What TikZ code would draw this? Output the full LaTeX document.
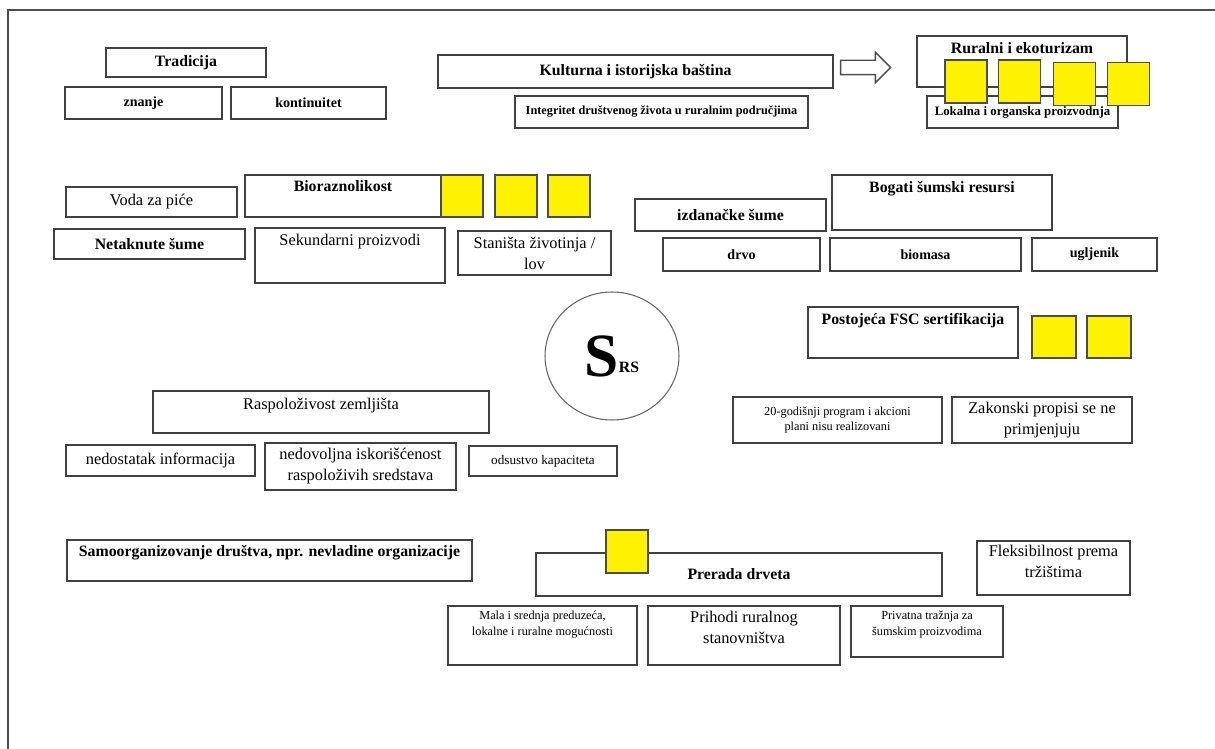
\documentclass[tikz,border=0pt]{standalone}
\usepackage{fontspec}
\setmainfont{Liberation Serif}
\usetikzlibrary{shapes.geometric, shapes.arrows, positioning}

\tikzset{
  card/.style={draw=black!75, line width=0.8pt, fill=white, inner sep=2pt, align=center},
  ttl/.style={anchor=north, inner sep=3.5pt, align=center},
  hd/.style={font=\fontsize{9}{10.5}\selectfont\bfseries},
  hds/.style={font=\fontsize{8}{9.5}\selectfont\bfseries},
  tx/.style={font=\fontsize{9.3}{12}\selectfont},
  sm/.style={font=\fontsize{7}{9}\selectfont},
  ysq/.style={draw=black!70, line width=0.8pt, fill=yellow, minimum width=0.84cm, minimum height=0.86cm, inner sep=0pt},
}

\begin{document}
\begin{tikzpicture}[x=0.02cm, y=-0.02cm]
  \useasboundingbox (0,0) rectangle (1215,749);
  % page frame
  \draw[black!70, line width=1pt] (8,749) -- (8,10) -- (1215,10);

  % Tradicija
  \node[card, hd, minimum width=3.2cm, minimum height=0.58cm] (trad) at (186,62.5) {Tradicija};
  \node[card, hds, minimum width=3.14cm, minimum height=0.64cm] (znanje) at (143.5,103) {znanje};
  \node[card, hds, minimum width=3.1cm, minimum height=0.64cm] (kont) at (308.5,103) {kontinuitet};

  % Kulturna i istorijska bastina
  \node[card, hd, minimum width=7.9cm, minimum height=0.66cm] (kult) at (635.5,71.5) {Kulturna i istorijska baština};
  \node[card, sm, font=\fontsize{7}{9}\selectfont\bfseries, minimum width=5.86cm, minimum height=0.64cm] (integ) at (661.5,112) {Integritet društvenog života u ruralnim područjima};
  \node[draw=black!70, line width=0.8pt, fill=white, single arrow, minimum height=1cm, inner sep=0.13cm, single arrow head extend=0.16cm] (arr) at (862,67.5) {};

  % Ruralni i ekoturizam
  \node[card, minimum width=4.2cm, minimum height=1.02cm, label={[ttl, hd, inner sep=4pt]north:Ruralni i ekoturizam}] (rural) at (1022,61.5) {};
  \node[card, font=\fontsize{7.3}{9}\selectfont\bfseries, minimum width=3.82cm, minimum height=0.64cm] (lokal) at (1022.5,112) {Lokalna i organska proizvodnja};
  \node[ysq] (ra1) at (966,81.5) {};
  \node[ysq] (ra2) at (1019.5,81.5) {};
  \node[ysq] (ra3) at (1074.5,84) {};
  \node[ysq] (ra4) at (1128.5,84) {};

  % Bioraznolikost
  \node[card, tx, minimum width=3.42cm, minimum height=0.6cm] (voda) at (151.5,202) {Voda za piće};
  \node[card, minimum width=3.92cm, minimum height=0.84cm, label={[ttl, hd]north:Bioraznolikost}] (bio) at (343,196) {};
  \node[ysq, minimum height=0.84cm] (bi1) at (462,196) {};
  \node[ysq, minimum height=0.84cm] (bi2) at (516,196) {};
  \node[ysq, minimum height=0.84cm] (bi3) at (569,196) {};
  \node[card, hd, minimum width=3.82cm, minimum height=0.6cm] (netak) at (149.5,244) {Netaknute šume};
  \node[card, minimum width=3.8cm, minimum height=1.1cm, label={[ttl, tx]north:Sekundarni proizvodi}] (sek) at (350,255.5) {};
  \node[card, tx, minimum width=3.06cm, minimum height=0.88cm] (stan) at (534.5,253) {Staništa životinja /\\ lov};

  % Bogati sumski resursi
  \node[card, hd, minimum width=3.82cm, minimum height=0.64cm] (izd) at (730.5,215) {izdanačke šume};
  \node[card, minimum width=4.4cm, minimum height=1.1cm, label={[ttl, hd, inner sep=4pt]north:Bogati šumski resursi}] (bogati) at (942,202.5) {};
  \node[card, hds, minimum width=3.14cm, minimum height=0.66cm] (drvo) at (741.5,254.5) {drvo};
  \node[card, hds, minimum width=3.82cm, minimum height=0.66cm] (biomasa) at (925.5,254.5) {biomasa};
  \node[card, hds, minimum width=2.5cm, minimum height=0.66cm] (uglj) at (1094.5,254.5) {ugljenik};

  % S_RS
  \node[ellipse, draw=black!60, line width=0.6pt, minimum width=2.68cm, minimum height=2.56cm, inner sep=0pt] (srs) at (612,356) {\raisebox{-2pt}{\fontsize{35}{35}\selectfont\bfseries S}\fontsize{9}{9}\selectfont\bfseries RS};

  % FSC
  \node[card, minimum width=4.2cm, minimum height=1.02cm, label={[ttl, hd, inner sep=4pt]north:Postojeća FSC sertifikacija}] (fsc) at (913,332.5) {};
  \node[ysq, minimum width=0.88cm, minimum height=0.84cm] (fs1) at (1054,337) {};
  \node[ysq, minimum width=0.88cm, minimum height=0.84cm] (fs2) at (1109,337) {};
  \node[card, sm, minimum width=4.18cm, minimum height=0.92cm] (prog) at (837.5,420) {20-godišnji program i akcioni\\ plani nisu realizovani};
  \node[card, tx, minimum width=3.6cm, minimum height=0.92cm] (zak) at (1042,420) {Zakonski propisi se ne\\ primjenjuju};

  % Raspolozivost zemljista
  \node[card, minimum width=6.72cm, minimum height=0.84cm, label={[ttl, tx, inner sep=4pt]north:Raspoloživost zemljišta}] (rasp) at (321,412) {};
  \node[card, tx, minimum width=3.78cm, minimum height=0.62cm] (nedost) at (160.5,460.5) {nedostatak informacija};
  \node[card, tx, minimum width=3.82cm, minimum height=0.94cm] (nedov) at (360.5,466.5) {nedovoljna iskorišćenost\\ raspoloživih sredstava};
  \node[card, font=\fontsize{7.5}{9}\selectfont, minimum width=2.96cm, minimum height=0.6cm] (odsus) at (543,461) {odsustvo kapaciteta};

  % Samoorganizovanje
  \node[card, minimum width=8.1cm, minimum height=0.82cm, label={[ttl, hd]north:Samoorganizovanje društva, npr. nevladine organizacije}] (samo) at (269.5,560.5) {};

  % Prerada drveta
  \node[card, hd, minimum width=8.12cm, minimum height=0.86cm] (prerada) at (739,574.5) {Prerada drveta};
  \node[ysq] (pr1) at (627,551.5) {};
  \node[card, minimum width=3.06cm, minimum height=1.08cm, label={[ttl, tx, inner sep=2.5pt]north:Fleksibilnost prema\\ tržištima}] (flek) at (1053.5,568) {};
  \node[card, minimum width=3.78cm, minimum height=1.18cm, label={[ttl, sm, inner sep=3pt]north:Mala i srednja preduzeća,\\ lokalne i ruralne mogućnosti}] (mala) at (542.5,635.5) {};
  \node[card, minimum width=3.84cm, minimum height=1.18cm, label={[ttl, tx, inner sep=3pt]north:Prihodi ruralnog\\ stanovništva}] (prihodi) at (744,635.5) {};
  \node[card, minimum width=3.04cm, minimum height=1.02cm, label={[ttl, sm, inner sep=3pt]north:Privatna tražnja za\\ šumskim proizvodima}] (privat) at (927,631.5) {};
\end{tikzpicture}
\end{document}
